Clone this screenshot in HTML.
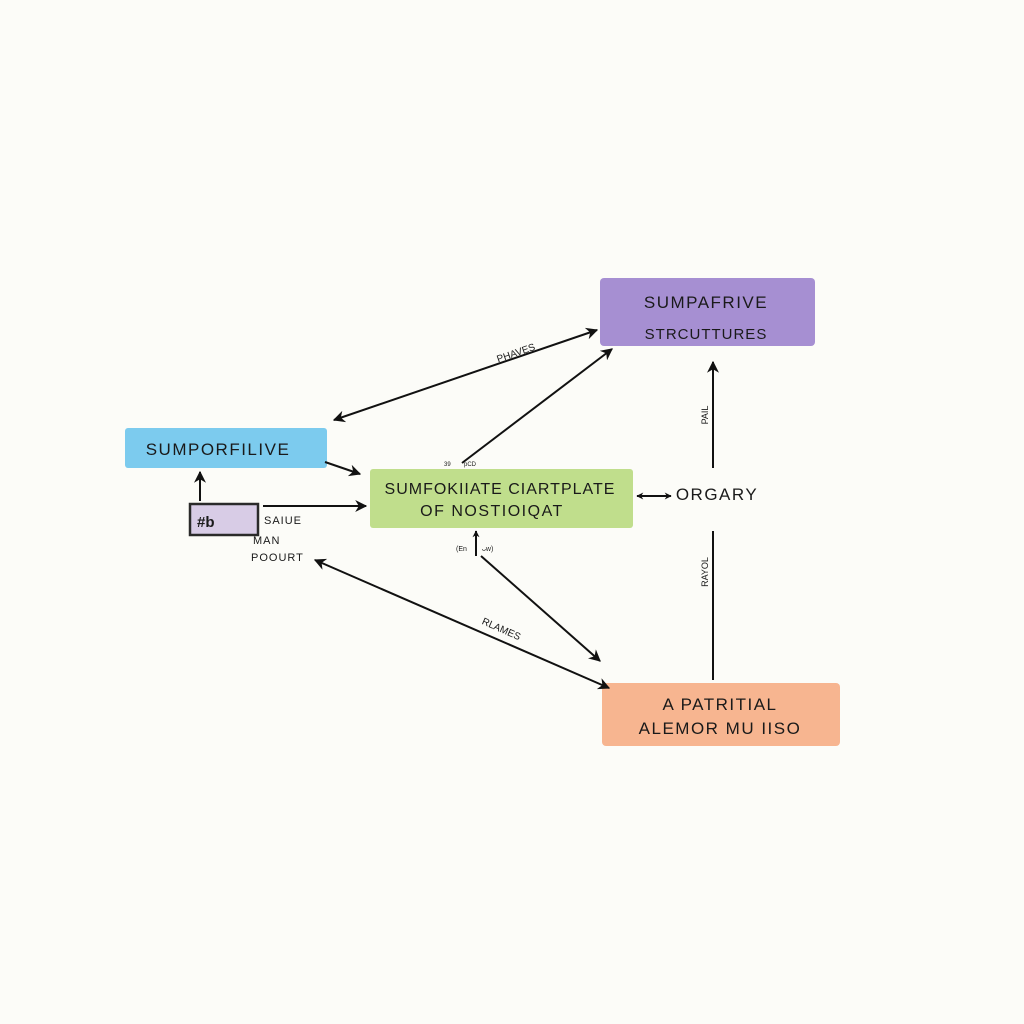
<!DOCTYPE html>
<html><head><meta charset="utf-8"><style>
html,body{margin:0;padding:0;background:#fcfcf8;}
svg{display:block;}
text{font-family:"Liberation Sans",sans-serif;fill:#1a1a1a;}
</style></head><body>
<svg width="1024" height="1024" viewBox="0 0 1024 1024" xmlns="http://www.w3.org/2000/svg">
<defs>
<marker id="a" viewBox="0 0 10 10" refX="9" refY="5" markerWidth="7" markerHeight="7" orient="auto-start-reverse" markerUnits="userSpaceOnUse">
<path d="M0,0 L10,5 L0,10 L3,5 z" fill="#111"/></marker>
<marker id="b" viewBox="0 0 10 10" refX="9" refY="5" markerWidth="12" markerHeight="12" orient="auto-start-reverse" markerUnits="userSpaceOnUse">
<path d="M0,0 L10,5 L0,10 L3,5 z" fill="#111"/></marker>
</defs>
<rect width="1024" height="1024" fill="#fcfcf8"/>
<!-- boxes -->
<rect x="600" y="278" width="215" height="68" rx="4" fill="#a68fd2"/>
<rect x="125" y="428" width="202" height="40" rx="3" fill="#7ccbee"/>
<rect x="370" y="469" width="263" height="59" rx="3" fill="#c0de8c"/>
<rect x="602" y="683" width="238" height="63" rx="4" fill="#f7b590"/>
<rect x="190" y="504" width="68" height="31" fill="#d8cce6" stroke="#2a2a2a" stroke-width="2.5"/>
<!-- connectors -->
<g stroke="#111" stroke-width="2" fill="none">
<line x1="334" y1="420" x2="597" y2="330" marker-start="url(#b)" marker-end="url(#b)"/>
<line x1="462" y1="463" x2="612" y2="349" marker-end="url(#b)"/>
<line x1="325" y1="462" x2="360" y2="474" marker-end="url(#b)"/>
<line x1="200" y1="501" x2="200" y2="472" marker-end="url(#b)"/>
<line x1="263" y1="506" x2="366" y2="506" marker-end="url(#b)"/>
<line x1="637" y1="496" x2="671" y2="496" marker-start="url(#a)" marker-end="url(#a)"/>
<line x1="713" y1="468" x2="713" y2="362" marker-end="url(#b)"/>
<line x1="713" y1="531" x2="713" y2="680"/>
<line x1="315" y1="560" x2="609" y2="688" marker-start="url(#b)" marker-end="url(#b)"/>
<line x1="481" y1="556" x2="600" y2="661" marker-end="url(#b)"/>
<line x1="476" y1="556" x2="476" y2="531" marker-end="url(#a)"/>
</g>
<!-- text -->
<text x="706" y="308" font-size="17" text-anchor="middle" letter-spacing="1.5">SUMPAFRIVE</text>
<text x="706" y="339" font-size="15" text-anchor="middle" letter-spacing="1">STRCUTTURES</text>
<text x="218" y="455" font-size="17" text-anchor="middle" letter-spacing="1.5">SUMPORFILIVE</text>
<text x="500" y="494" font-size="16" text-anchor="middle" letter-spacing="1">SUMFOKIIATE  CIARTPLATE</text>
<text x="492" y="516" font-size="16" text-anchor="middle" letter-spacing="1.5">OF NOSTIOIQAT</text>
<text x="717" y="500" font-size="17" text-anchor="middle" letter-spacing="1.5">ORGARY</text>
<text x="720" y="710" font-size="17" text-anchor="middle" letter-spacing="1.5">A PATRITIAL</text>
<text x="720" y="734" font-size="17" text-anchor="middle" letter-spacing="1.5">ALEMOR MU IISO</text>
<text x="197" y="527" font-size="15" font-weight="bold">#b</text>
<text x="264" y="524" font-size="11" letter-spacing="1">SAIUE</text>
<text x="253" y="544" font-size="11" letter-spacing="1">MAN</text>
<text x="251" y="561" font-size="11" letter-spacing="1">POOURT</text>
<text x="517" y="356" font-size="10" text-anchor="middle" transform="rotate(-19 517 356)">PHAVES</text>
<text x="500" y="632" font-size="10" text-anchor="middle" transform="rotate(24 500 632)">RLAMES</text>
<text x="708" y="415" font-size="9" text-anchor="middle" transform="rotate(-90 708 415)">PAIL</text>
<text x="708" y="572" font-size="9" text-anchor="middle" transform="rotate(-90 708 572)">RAYOL</text>
<text x="444" y="466" font-size="6">39</text>
<text x="464" y="466" font-size="6">pCD</text>
<text x="456" y="551" font-size="7">(En</text>
<text x="482" y="551" font-size="7">ᴗw)</text>
</svg>
</body></html>
